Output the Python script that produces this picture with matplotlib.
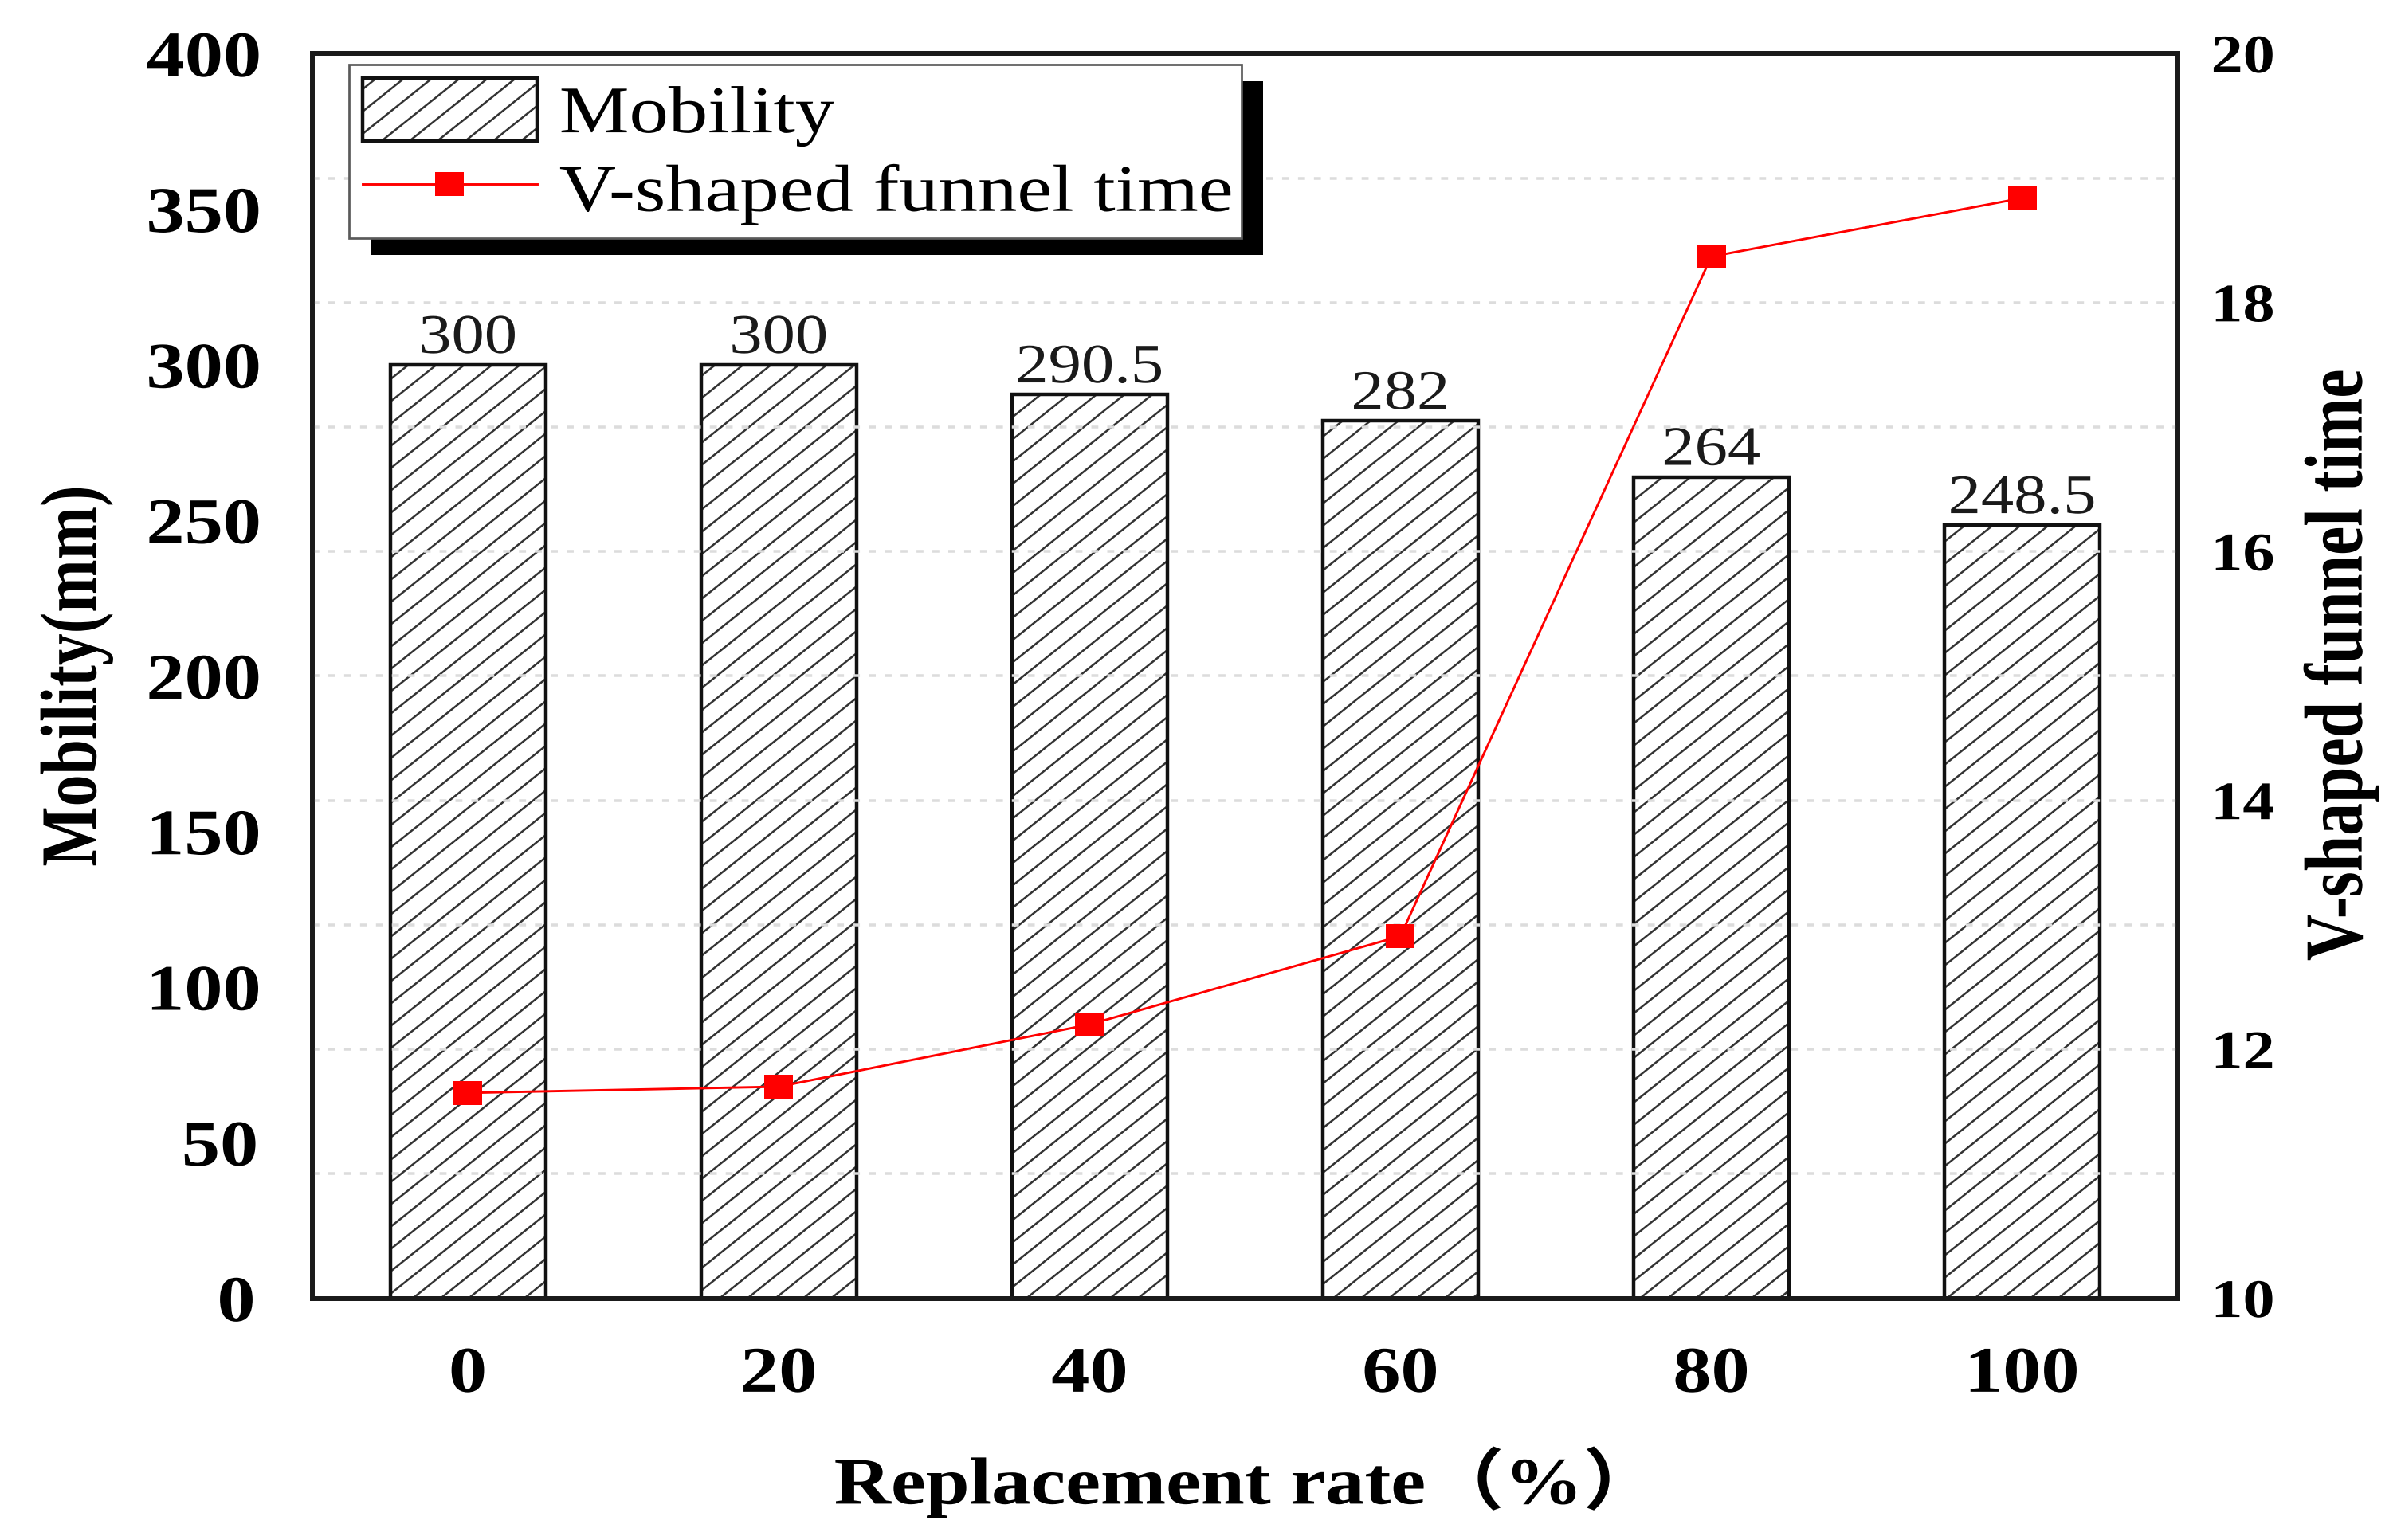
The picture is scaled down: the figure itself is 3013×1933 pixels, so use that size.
import numpy as np
import matplotlib
matplotlib.use('Agg')
import matplotlib.pyplot as plt
import matplotlib.hatch as mhatch
from matplotlib.path import Path
from matplotlib.transforms import Affine2D, IdentityTransform
from matplotlib.patheffects import AbstractPathEffect
from matplotlib.patches import Rectangle
from matplotlib.ticker import MultipleLocator
from matplotlib.legend_handler import HandlerTuple

# ---------------- data ----------------
categories = ['0', '20', '40', '60', '80', '100']
mobility = [300, 300, 290.5, 282, 264, 248.5]
funnel_time = [11.65, 11.70, 12.20, 12.91, 18.37, 18.84]
left_ticks = [0, 50, 100, 150, 200, 250, 300, 350, 400]
right_ticks = [10, 12, 14, 16, 18, 20]

bar_name = 'Mobility'
line_name = 'V-shaped funnel time'
xlabel_text = 'Replacement rate（%）'
ylabel_left_text = 'Mobility(mm)'
ylabel_right_text = 'V-shaped funnel time'

# ---------------- style helpers ----------------
plt.rcParams['font.family'] = ['Liberation Serif', 'Noto Sans CJK SC']
plt.rcParams['hatch.linewidth'] = 1.3


class SlantHatch(mhatch.HatchPatternBase):
    """'/' hatch drawn with a shallower slope than the default 45 degrees."""
    SLOPE = 0.8
    PER_TILE = 5

    def __init__(self, hatch, density):
        n = hatch.count('/')
        self.num_lines = (2 * self.PER_TILE + 1) if n else 0
        self.num_vertices = self.num_lines * 2

    def set_vertices_and_codes(self, vertices, codes):
        c = np.arange(-self.PER_TILE, self.PER_TILE + 1) / self.PER_TILE
        x0, x1 = -0.1, 1.1
        vertices[0::2, 0] = x0
        vertices[0::2, 1] = c + self.SLOPE * x0
        vertices[1::2, 0] = x1
        vertices[1::2, 1] = c + self.SLOPE * x1
        codes[0::2] = Path.MOVETO
        codes[1::2] = Path.LINETO


_i = mhatch._hatch_types.index(mhatch.NorthEastHatch)
mhatch._hatch_types[_i] = SlantHatch


class Stretch(AbstractPathEffect):
    """Stretch glyphs in their own coordinates (the source image is widened)."""

    def __init__(self, sx=1.0, sy=1.0, anchor='center'):
        super().__init__()
        self.sx, self.sy, self.anchor = sx, sy, anchor

    def draw_path(self, renderer, gc, tpath, affine, rgbFace=None):
        ext = tpath.get_extents()
        cx = 0.0 if self.anchor == 'left' else ext.x0 + ext.width / 2
        cy = ext.y0 + ext.height / 2
        t = (Affine2D().translate(-cx, -cy).scale(self.sx, self.sy)
             .translate(cx, cy) + affine)
        renderer.draw_path(gc, tpath, t, rgbFace)


DPI = 140
fig = plt.figure(figsize=(3013.2 / DPI, 1933.2 / DPI), dpi=DPI)
ax1 = fig.add_axes([0.13010, 0.15696, 0.77680, 0.80807])
ax2 = ax1.twinx()

x = np.arange(len(categories))

# bars: hatch layer + outline layer
bc_h = ax1.bar(x, mobility, width=0.5, color='white', edgecolor='#333333',
               linewidth=0, hatch='/', zorder=2)
bc_o = ax1.bar(x, mobility, width=0.5, fill=False, edgecolor='#111111',
               linewidth=2.3, zorder=2.1)

# line on right axis
marker_shape = Affine2D().translate(-0.5, -0.5).scale(1.18, 1.0).transform_path(
    Path.unit_rectangle())
ln, = ax2.plot(x, funnel_time, color='#ff0000', lw=1.5, marker=marker_shape,
               markersize=18.5, mfc='#ff0000', mec='#ff0000', mew=0, zorder=3)

# axes ranges / ticks
ax1.set_xlim(-0.5, len(categories) - 0.5)
ax1.set_ylim(0, 400)
ax1.set_yticks(left_ticks)
ax1.set_xticks(x, categories)
ax2.set_ylim(10, 20)
ax2.set_yticks(right_ticks)
ax2.yaxis.set_minor_locator(MultipleLocator(1))

ax1.tick_params(axis='both', which='both', length=0, labelsize=42, colors='black')
ax1.tick_params(axis='y', pad=38.6)
ax1.tick_params(axis='x', pad=31)
ax2.tick_params(axis='y', which='both', length=0, pad=24.7, labelsize=35)

ax2.grid(True, which='both', axis='y', color='#dcdcdc', linewidth=1.8,
         linestyle=(0, (2.5, 3.2)))
ax1.grid(False)

for ax in (ax1, ax2):
    for s in ax.spines.values():
        s.set_linewidth(3.0)
        s.set_color('#1a1a1a')

# axis labels
ax1.set_xlabel(xlabel_text, fontsize=43, fontweight='bold')
ax1.xaxis.set_label_coords(0.4995, -0.1478)
ax1.xaxis.label.set_va('center')
ax1.xaxis.label.set_path_effects([Stretch(1.18, 1.0)])

ax1.set_ylabel(ylabel_left_text, fontsize=41, fontweight='bold')
ax1.yaxis.set_label_coords(-0.1265, 0.5)
ax1.yaxis.label.set_va('center')
ax1.yaxis.label.set_path_effects([Stretch(1.0, 1.26)])

ax2.set_ylabel(ylabel_right_text, fontsize=42, fontweight='bold', rotation=90)
ax2.yaxis.set_label_coords(1.0878, 0.5087)
ax2.yaxis.label.set_va('center')
ax2.yaxis.label.set_path_effects([Stretch(1.0, 1.27)])

# tick label styling
for lbl in list(ax1.get_xticklabels()) + list(ax1.get_yticklabels()) + list(ax2.get_yticklabels()):
    lbl.set_fontweight('bold')
    lbl.set_path_effects([Stretch(1.18, 1.0)])

# value labels on bars
anns = ax1.bar_label(bc_o, labels=[f'{v:g}' for v in mobility], padding=0,
                     fontsize=36, color='#1a1a1a')
for a in anns:
    a.set_path_effects([Stretch(1.18, 1.0)])

# legend
leg = ax2.legend([(bc_h, bc_o), ln], [bar_name, line_name],
                 loc='upper left', bbox_to_anchor=(0.01965, 0.8545, 0.4785, 0.1366),
                 mode='expand', borderaxespad=0, fontsize=43,
                 handlelength=2.62, handleheight=1.08, handletextpad=0.335,
                 borderpad=0.2, labelspacing=0.15, fancybox=False,
                 framealpha=1, edgecolor='#5a5a5a', facecolor='white',
                 handler_map={tuple: HandlerTuple(ndivide=1)})
leg.get_frame().set_linewidth(1.4)
for t in leg.get_texts():
    t.set_path_effects([Stretch(1.18, 1.0, 'left')])

# drop shadow behind legend frame
fig.canvas.draw()
r = fig.canvas.get_renderer()
bb = leg.get_frame().get_window_extent(r)
shadow = Rectangle((bb.x0 + 27, bb.y0 - 21), bb.width, bb.height,
                   transform=IdentityTransform(), facecolor='black',
                   edgecolor='none', zorder=leg.get_zorder() - 0.01, clip_on=False)
ax2.add_artist(shadow)

fig.savefig('out.png', dpi=DPI)
